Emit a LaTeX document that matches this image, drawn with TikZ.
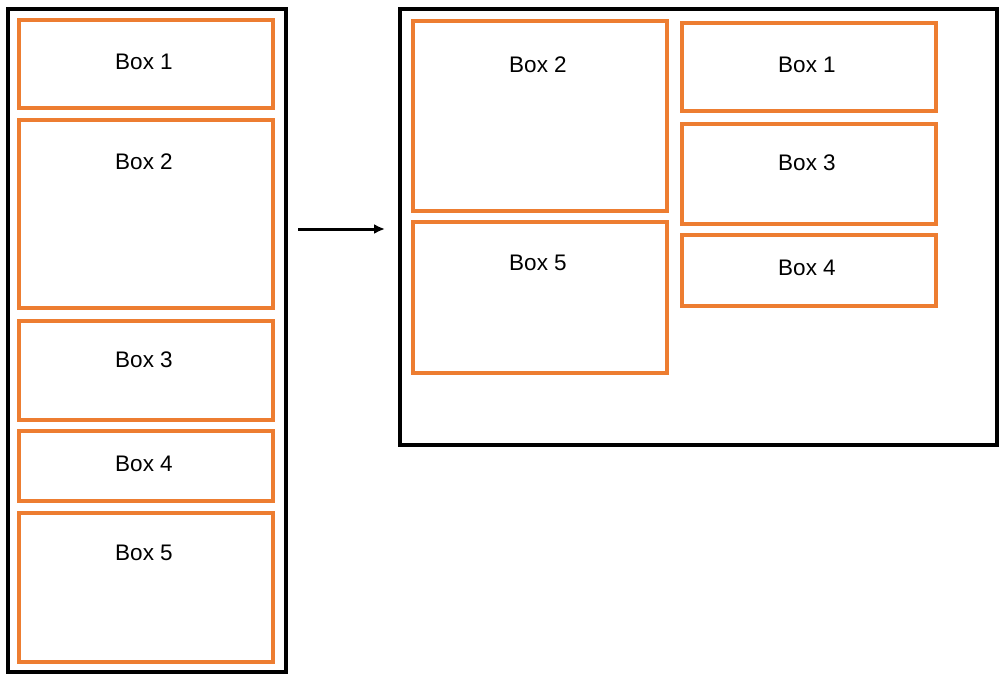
\documentclass[tikz,border=0pt]{standalone}
\usepackage{fontspec}
\setmainfont{Liberation Sans}
\usetikzlibrary{arrows.meta}
\definecolor{boxorange}{HTML}{ED7D31}
\tikzset{
  frame/.style={draw=black,line width=4bp,anchor=north west,inner sep=0pt},
  pbox/.style={draw=boxorange,line width=4bp,anchor=north west,inner sep=0pt},
  lbl/.style={font=\fontsize{22.5bp}{26bp}\selectfont,inner sep=0pt}
}
\def\bw{254bp}

\begin{document}
\begin{tikzpicture}[x=1bp,y=-1bp]
        \useasboundingbox (0,0) rectangle (1002,675);
        % left frame, boxes stacked
        \node[frame,minimum width=278bp,minimum height=663bp] (leftframe) at (6,7) {};
        \node[pbox,minimum width=\bw,minimum height=88bp] (l1) at (17,18) {};
        \node[lbl] (l1t) at (144,62) {Box 1};
        \node[pbox,minimum width=\bw,minimum height=188bp] (l2) at (17,118) {};
        \node[lbl] (l2t) at (144,162) {Box 2};
        \node[pbox,minimum width=\bw,minimum height=99bp] (l3) at (17,319) {};
        \node[lbl] (l3t) at (144,360) {Box 3};
        \node[pbox,minimum width=\bw,minimum height=70bp] (l4) at (17,429) {};
        \node[lbl] (l4t) at (144,464) {Box 4};
        \node[pbox,minimum width=\bw,minimum height=149bp] (l5) at (17,511) {};
        \node[lbl] (l5t) at (144,553) {Box 5};
        % arrow between the frames
        \coordinate (arrstart) at (298,229);
        \coordinate (arrend) at (385,229);
        \draw[-{Latex[length=11bp,width=10bp]},line width=3bp] (arrstart) -- (arrend);
        % right frame, two columns
        \node[frame,minimum width=597bp,minimum height=436bp] (rightframe) at (398,7) {};
        \node[pbox,minimum width=\bw,minimum height=190bp] (r2) at (411,19) {};
        \node[lbl] (r2t) at (538,65) {Box 2};
        \node[pbox,minimum width=\bw,minimum height=151bp] (r5) at (411,220) {};
        \node[lbl] (r5t) at (538,263) {Box 5};
        \node[pbox,minimum width=\bw,minimum height=88bp] (r1) at (680,21) {};
        \node[lbl] (r1t) at (807,65) {Box 1};
        \node[pbox,minimum width=\bw,minimum height=100bp] (r3) at (680,122) {};
        \node[lbl] (r3t) at (807,163) {Box 3};
        \node[pbox,minimum width=\bw,minimum height=71bp] (r4) at (680,233) {};
        \node[lbl] (r4t) at (807,268) {Box 4};
\end{tikzpicture}
\end{document}
